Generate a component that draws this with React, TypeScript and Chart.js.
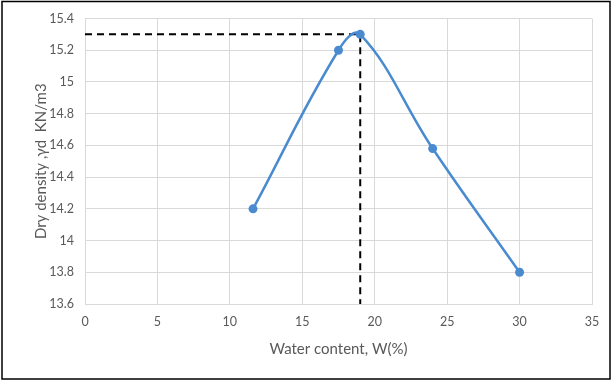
import React, { useEffect, useRef } from "react";
import { Chart, registerables } from "chart.js";

Chart.register(...registerables);

const waterContent = [11.6, 17.5, 19, 24, 30];
const dryDensity = [14.2, 15.2, 15.3, 14.58, 13.8];
const guideX = [0, 19, 19];
const guideY = [15.3, 15.3, 13.6];
const xTicks = [0, 5, 10, 15, 20, 25, 30, 35];
const yTicks = [13.6, 13.8, 14, 14.2, 14.4, 14.6, 14.8, 15, 15.2, 15.4];
const yTickLabels = ["13.6", "13.8", "14", "14.2", "14.4", "14.6", "14.8", "15", "15.2", "15.4"];
const xTitle = "Water content, W(%)";
const yTitle = "Dry density ,\u03b3d  KN/m3";

const FONT = "Lato, 'Open Sans', sans-serif";
const TEXT = "#595959";
const GRID = "#d9d9d9";

const borderPlugin = {
  id: "outerBorder",
  afterDraw(chart: any) {
    const ctx = chart.ctx;
    ctx.save();
    ctx.strokeStyle = "#000";
    ctx.lineWidth = 1.5;
    ctx.strokeRect(2, 1.5, 608, 377.5);
    ctx.restore();
  },
};

export default function App() {
  const ref = useRef<HTMLCanvasElement>(null);
  useEffect(() => {
    document.body.style.margin = "0";
    const chart = new Chart(ref.current!, {
      type: "scatter",
      data: {
        datasets: [
          {
            data: waterContent.map((x, i) => ({ x, y: dryDensity[i] })),
            showLine: true,
            tension: 0.4,
            borderColor: "#4a8bd0",
            backgroundColor: "#4a8bd0",
            borderWidth: 2.5,
            pointRadius: 4.5,
            pointBorderWidth: 0,
            order: 0,
          },
          {
            data: guideX.map((x, i) => ({ x, y: guideY[i] })),
            showLine: true,
            tension: 0,
            borderColor: "#000",
            borderWidth: 2,
            borderDash: [7, 5],
            pointRadius: 0,
            order: 1,
          },
        ],
      },
      options: {
        animation: false,
        responsive: false,
        devicePixelRatio: 1,
        layout: { padding: { left: 28, right: 21, top: 18, bottom: 20 } },
        plugins: { legend: { display: false }, tooltip: { enabled: false } },
        scales: {
          x: {
            type: "linear",
            min: 0,
            max: 35,
            afterBuildTicks: (s: any) => {
              s.ticks = xTicks.map((v) => ({ value: v }));
            },
            afterFit: (s: any) => {
              s.height = 58;
            },
            grid: { color: GRID, drawTicks: false },
            border: { color: GRID },
            ticks: { color: TEXT, font: { family: FONT, size: 12.5 }, padding: 10 },
            title: {
              display: true,
              text: xTitle,
              color: TEXT,
              font: { family: FONT, size: 15 },
              padding: { top: 4, bottom: 4 },
            },
          },
          y: {
            type: "linear",
            min: 13.6,
            max: 15.4,
            afterBuildTicks: (s: any) => {
              s.ticks = yTicks.map((v) => ({ value: v }));
            },
            afterFit: (s: any) => {
              s.width = 57;
            },
            grid: { color: GRID, drawTicks: false },
            border: { color: GRID },
            ticks: {
              color: TEXT,
              font: { family: FONT, size: 12.5 },
              padding: 11,
              callback: (_v: any, i: number) => yTickLabels[i],
            },
            title: {
              display: true,
              text: yTitle,
              color: TEXT,
              font: { family: FONT, size: 15 },
              padding: { top: 4, bottom: 4 },
            },
          },
        },
      },
      plugins: [borderPlugin],
    });
    return () => chart.destroy();
  }, []);
  return (
    <div style={{ position: "absolute", left: 0, top: 0, width: 613, height: 382, background: "#fff" }}>
      <canvas ref={ref} width={613} height={382} />
    </div>
  );
}
